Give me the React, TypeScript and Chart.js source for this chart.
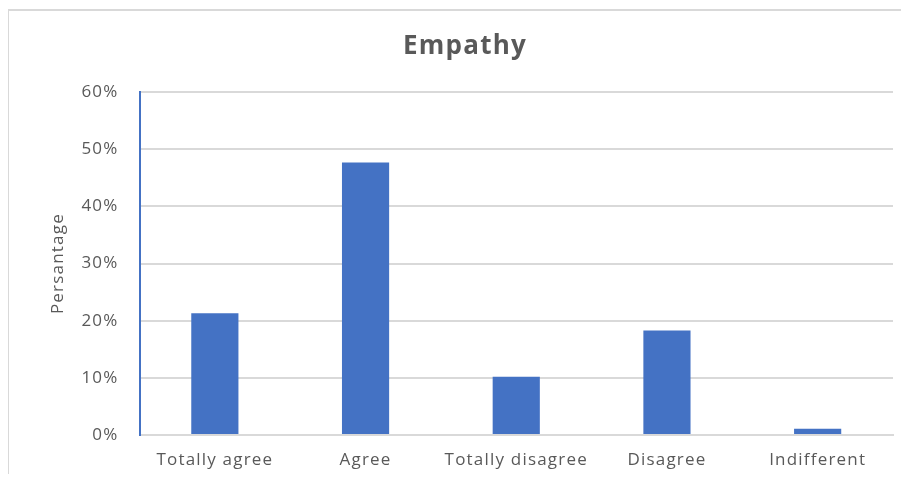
import React, { useEffect, useRef } from "react";
import { Chart, registerables } from "chart.js";

Chart.register(...registerables);

const categories = ["Totally agree", "Agree", "Totally disagree", "Disagree", "Indifferent"];
const percentages = [21.3, 47.7, 10.2, 18.3, 1.1];
const chartTitle = "Empathy";
const yAxisTitle = "Persantage";

const FONT = "'Open Sans', 'DejaVu Sans', sans-serif";
const TEXT = "#595959";
const GRID = "#d9d9d9";
const BAR = "#4472C4";

// Slightly open letter spacing for all chart text (used both when measuring and drawing).
const spacingPlugin = {
  id: "letterSpacing",
  beforeUpdate(chart: any) {
    chart.ctx.letterSpacing = "1.2px";
  },
  beforeDraw(chart: any) {
    chart.ctx.letterSpacing = "1.2px";
  },
};

export default function App() {
  const canvasRef = useRef<HTMLCanvasElement | null>(null);

  useEffect(() => {
    if (!canvasRef.current) return;
    const ctx = canvasRef.current.getContext("2d") as any;
    if (ctx) ctx.letterSpacing = "1.2px";
    const chart = new Chart(canvasRef.current, {
      type: "bar",
      plugins: [spacingPlugin],
      data: {
        labels: categories,
        datasets: [
          {
            data: percentages,
            backgroundColor: BAR,
            borderWidth: 0,
            barPercentage: 0.313,
            categoryPercentage: 1,
          },
        ],
      },
      options: {
        animation: false,
        responsive: false,
        maintainAspectRatio: false,
        layout: { padding: { left: 37, right: 16, top: 0, bottom: 7 } },
        plugins: {
          legend: { display: false },
          tooltip: { enabled: false },
          title: {
            display: true,
            text: chartTitle,
            color: TEXT,
            font: { family: FONT, size: 26, weight: "bold", lineHeight: 1.2 },
            padding: { top: 31, bottom: 30 },
          },
        },
        scales: {
          x: {
            grid: { display: false, drawTicks: false },
            border: { color: GRID, width: 2 },
            ticks: {
              color: TEXT,
              font: { family: FONT, size: 17 },
              padding: 15,
              maxRotation: 0,
            },
            afterFit: (scale: any) => {
              scale.height = 40;
            },
          },
          y: {
            min: 0,
            max: 60,
            grid: { color: GRID, lineWidth: 2, drawTicks: false },
            border: { color: BAR, width: 2 },
            ticks: {
              stepSize: 10,
              color: TEXT,
              font: { family: FONT, size: 17 },
              padding: 21,
              callback: (v: any) => `${v}%`,
            },
            title: {
              display: true,
              text: yAxisTitle,
              color: TEXT,
              font: { family: FONT, size: 17, lineHeight: 1.2 },
              padding: { top: 11, bottom: 0 },
            },
            afterFit: (scale: any) => {
              scale.width = 102.5;
            },
          },
        },
      },
    });
    return () => chart.destroy();
  }, []);

  return (
    <div
      style={{
        position: "relative",
        width: 909,
        height: 482,
        margin: -8,
        overflow: "hidden",
        background: "#fff",
      }}
    >
      <div
        style={{
          position: "absolute",
          left: 7,
          top: 9,
          width: 1000,
          height: 1000,
          border: `2px solid ${GRID}`,
          boxSizing: "border-box",
        }}
      />
      <canvas
        ref={canvasRef}
        width={909}
        height={482}
        style={{ position: "absolute", left: 0, top: 0, width: 909, height: 482 }}
      />
    </div>
  );
}
